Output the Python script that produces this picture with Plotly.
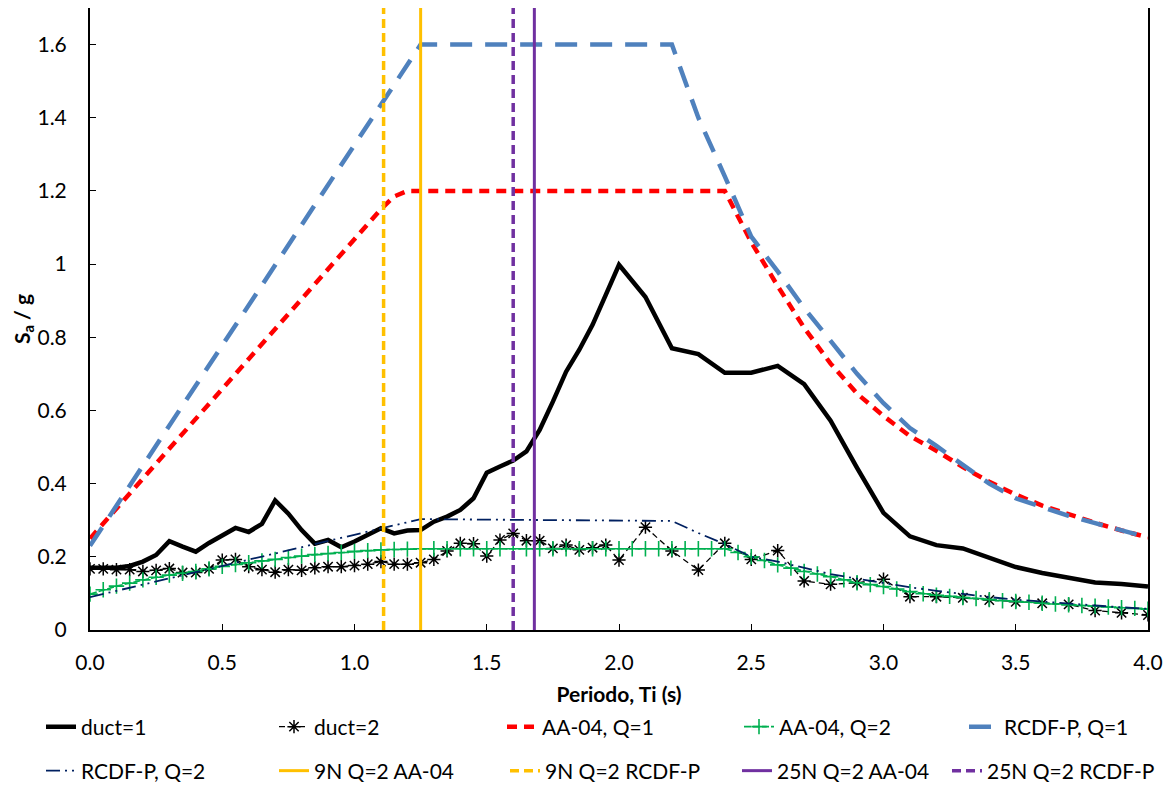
import plotly.graph_objects as go

# ---------------- data ----------------
# period grid for the recorded spectra (0.05 s up to 2.0 s, then 0.1 s)
T_duct = [0.00, 0.05, 0.10, 0.15, 0.20, 0.25, 0.30, 0.35, 0.40, 0.45, 0.50, 0.55, 0.60, 0.65, 0.70,
          0.75, 0.80, 0.85, 0.90, 0.95, 1.00, 1.05, 1.10, 1.15, 1.20, 1.25, 1.30, 1.35, 1.40, 1.45,
          1.50, 1.55, 1.60, 1.65, 1.70, 1.75, 1.80, 1.85, 1.90, 1.95, 2.00,
          2.1, 2.2, 2.3, 2.4, 2.5, 2.6, 2.7, 2.8, 2.9, 3.0, 3.1, 3.2, 3.3, 3.4, 3.5, 3.6, 3.7, 3.8, 3.9, 4.0]
duct1 = [0.170, 0.170, 0.170, 0.175, 0.187, 0.205, 0.243, 0.228, 0.214, 0.238, 0.260, 0.279, 0.268, 0.290, 0.354,
         0.318, 0.273, 0.236, 0.246, 0.226, 0.242, 0.260, 0.278, 0.264, 0.272, 0.273, 0.296, 0.310, 0.328, 0.360,
         0.430, 0.447, 0.463, 0.488, 0.547, 0.624, 0.706, 0.766, 0.834, 0.916, 0.998,
         0.910, 0.770, 0.754, 0.703, 0.703, 0.722, 0.672, 0.572, 0.443, 0.320, 0.256, 0.232, 0.223, 0.197, 0.172,
         0.156, 0.143, 0.130, 0.126, 0.119]
duct2 = [0.167, 0.167, 0.165, 0.165, 0.160, 0.163, 0.168, 0.157, 0.157, 0.167, 0.191, 0.193, 0.173, 0.165, 0.158,
         0.165, 0.163, 0.170, 0.173, 0.173, 0.176, 0.180, 0.187, 0.180, 0.180, 0.184, 0.193, 0.216, 0.237, 0.236,
         0.202, 0.246, 0.264, 0.244, 0.244, 0.223, 0.232, 0.219, 0.225, 0.232, 0.191,
         0.281, 0.216, 0.164, 0.237, 0.193, 0.217, 0.134, 0.125, 0.129, 0.139, 0.091, 0.091, 0.088, 0.082, 0.077,
         0.073, 0.070, 0.053, 0.047, 0.041]

# design spectra
T_aa1 = [0.0, 1.10, 1.15, 1.20, 2.40, 2.5, 2.6, 2.7, 2.8, 2.9, 3.0, 3.1, 3.2, 3.3, 3.4, 3.5, 3.6, 3.7, 3.8, 3.9, 4.0]
aa1 = [0.25, 1.150, 1.185, 1.200, 1.200, 1.060, 0.940, 0.826, 0.728, 0.646, 0.585, 0.530, 0.490, 0.445, 0.405,
       0.370, 0.340, 0.315, 0.293, 0.272, 0.253]

T_aa2 = [round(0.05 * i, 2) for i in range(81)]
aa2 = [0.098, 0.110, 0.120, 0.128, 0.137, 0.144, 0.150, 0.155, 0.160, 0.167, 0.174, 0.179, 0.184, 0.189, 0.193,
       0.198, 0.202, 0.206, 0.209, 0.212, 0.215, 0.217, 0.219, 0.220, 0.221, 0.222, 0.222, 0.222, 0.222, 0.222,
       0.222, 0.222, 0.222, 0.222, 0.222, 0.222, 0.222, 0.222, 0.222, 0.222, 0.222, 0.222, 0.222, 0.222, 0.222,
       0.222, 0.222, 0.222, 0.222, 0.212, 0.200, 0.190, 0.178, 0.169, 0.160, 0.153, 0.146, 0.137, 0.129, 0.124,
       0.119, 0.112, 0.105, 0.099, 0.095, 0.092, 0.089, 0.086, 0.083, 0.080, 0.078, 0.076, 0.073, 0.071, 0.069,
       0.067, 0.065, 0.063, 0.061, 0.059, 0.057]

T_rc1 = [0.0, 1.25, 2.20, 2.3, 2.4, 2.5, 2.6, 2.7, 2.8, 2.9, 3.0, 3.1, 3.2, 3.3, 3.4, 3.5, 3.6, 3.7, 3.8, 3.9, 4.0]
rc1 = [0.23, 1.60, 1.60, 1.40, 1.24, 1.075, 0.980, 0.880, 0.790, 0.700, 0.620, 0.552, 0.503, 0.450, 0.400,
       0.360, 0.335, 0.312, 0.292, 0.272, 0.253]

T_rc2 = [0.0, 1.25, 2.20, 2.3, 2.4, 2.5, 2.6, 2.7, 2.8, 2.9, 3.0, 3.1, 3.2, 3.3, 3.4, 3.5, 3.6, 3.7, 3.8, 3.9, 4.0]
rc2 = [0.090, 0.303, 0.298, 0.265, 0.235, 0.200, 0.187, 0.170, 0.153, 0.140, 0.128, 0.117, 0.107, 0.098, 0.090,
       0.083, 0.077, 0.072, 0.067, 0.062, 0.058]

# building periods (vertical lines)
T_9N_AA = 1.25
T_9N_RC = 1.11
T_25N_AA = 1.68
T_25N_RC = 1.60
v_span = [0.0, 1.7]

x_ticks = [0.0, 0.5, 1.0, 1.5, 2.0, 2.5, 3.0, 3.5, 4.0]
x_ticklabels = ["0.0", "0.5", "1.0", "1.5", "2.0", "2.5", "3.0", "3.5", "4.0"]
y_ticks = [0, 0.2, 0.4, 0.6, 0.8, 1.0, 1.2, 1.4, 1.6]
y_ticklabels = ["0", "0.2", "0.4", "0.6", "0.8", "1", "1.2", "1.4", "1.6"]

FONT = "Lato"
FS = 21

# the page body adds an 8px offset; size the figure so it fits the 1175x785 window
OFF = 8
W, H = 1175 - OFF, 785 - OFF
# legend text start (px, screen) per slot, and row centres (px, screen)
row_y = [727, 771]
col_text_x = [[82, 315, 543, 780, 1005], [82, 315, 546, 778, 988]]
TEXT_OFFSET = 41

fig = go.Figure()

traces = [
    go.Scatter(x=T_duct, y=duct1, name="duct=1", mode="lines",
               line=dict(color="black", width=4.5)),
    go.Scatter(x=T_duct, y=duct2, name="duct=2", mode="lines+markers",
               line=dict(color="black", width=1.3, dash="6px,4px"),
               marker=dict(symbol="asterisk-open", size=11, color="black",
                           line=dict(color="black", width=1.5))),
    go.Scatter(x=T_aa1, y=aa1, name="AA-04, Q=1", mode="lines",
               line=dict(color="#FF0000", width=4.5, dash="10px,7px")),
    go.Scatter(x=T_aa2, y=aa2, name="AA-04, Q=2", mode="lines+markers",
               line=dict(color="#00B050", width=1.6, dash="7px,2px"),
               marker=dict(symbol="cross-thin-open", size=11, color="#00B050",
                           line=dict(color="#00B050", width=1.6))),
    go.Scatter(x=T_rc1, y=rc1, name="RCDF-P, Q=1", mode="lines",
               line=dict(color="#4F81BD", width=4.5, dash="22px,13px")),
    go.Scatter(x=T_rc2, y=rc2, name="RCDF-P, Q=2", mode="lines",
               line=dict(color="#002060", width=1.8, dash="14px,5px,2px,5px,2px,5px")),
    go.Scatter(x=[T_9N_AA, T_9N_AA], y=v_span, name="9N Q=2 AA-04", mode="lines",
               line=dict(color="#FFC000", width=3)),
    go.Scatter(x=[T_9N_RC, T_9N_RC], y=v_span, name="9N Q=2 RCDF-P", mode="lines",
               line=dict(color="#FFC000", width=3.5, dash="9px,5px")),
    go.Scatter(x=[T_25N_AA, T_25N_AA], y=v_span, name="25N Q=2 AA-04", mode="lines",
               line=dict(color="#7030A0", width=3)),
    go.Scatter(x=[T_25N_RC, T_25N_RC], y=v_span, name="25N Q=2 RCDF-P", mode="lines",
               line=dict(color="#7030A0", width=3.5, dash="9px,5px")),
]

legends = {}
for i, tr in enumerate(traces):
    key = "legend" if i == 0 else f"legend{i + 1}"
    tr.legend = key
    r, c = divmod(i, 5)
    legends[key] = dict(orientation="h", xref="container", yref="container",
                        x=(col_text_x[r][c] - OFF - TEXT_OFFSET) / W, xanchor="left",
                        y=1 - (row_y[r] - OFF) / H, yanchor="middle",
                        font=dict(family=FONT, size=FS, color="black"), bgcolor="rgba(0,0,0,0)",
                        itemclick=False, itemdoubleclick=False)
    fig.add_trace(tr)

# plot area on screen: x 90..1148, y 8..630
fig.update_layout(
    width=W, height=H,
    margin=dict(l=90 - OFF, r=(1175 - 1148), t=0, b=H - (630 - OFF), autoexpand=False),
    paper_bgcolor="white", plot_bgcolor="white",
    font=dict(family=FONT, size=FS, color="black"),
    showlegend=True,
    xaxis=dict(range=[0, 4], tickvals=x_ticks, ticktext=x_ticklabels, ticks="inside", ticklen=6,
               tickcolor="black", showline=True, linecolor="black", linewidth=2, mirror=True,
               showgrid=False, zeroline=False, ticklabelstandoff=13, automargin=False,
               title=dict(text="<b>Periodo, Ti (s)</b>", font=dict(family=FONT, size=FS), standoff=41)),
    yaxis=dict(range=[0, 1.7], tickvals=y_ticks, ticktext=y_ticklabels, ticks="inside", ticklen=6,
               tickcolor="black", showline=True, linecolor="black", linewidth=2, mirror=True,
               showgrid=False, zeroline=False, ticklabelstandoff=17, automargin=False,
               title=dict(text="<b>S<sub>a</sub> / g</b>", font=dict(family=FONT, size=FS), standoff=0)),
    **legends,
)

fig.write_html("out.html")
